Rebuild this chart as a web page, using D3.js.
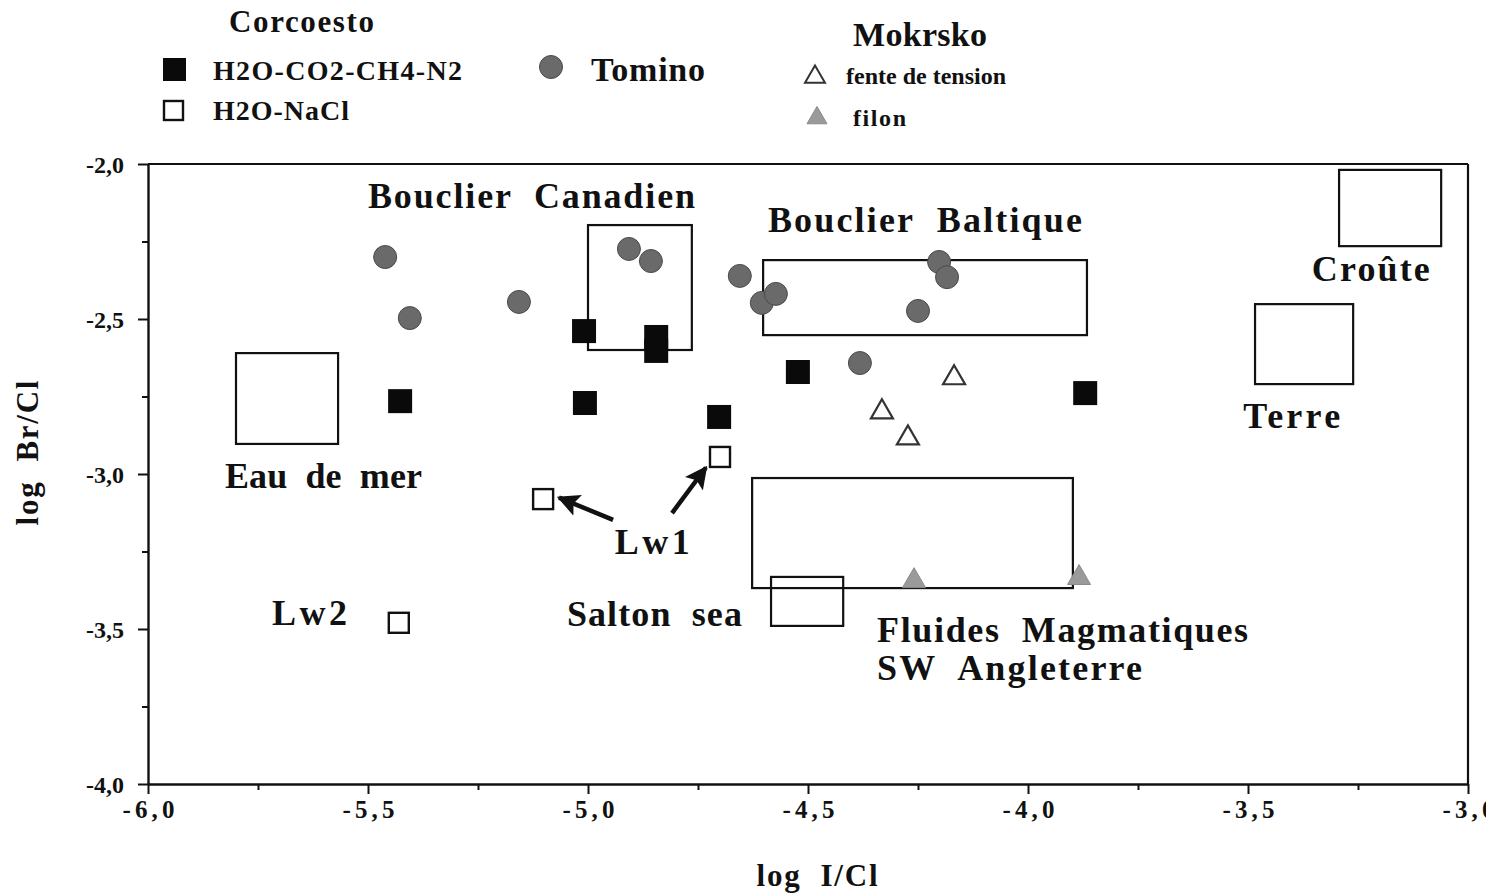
<!DOCTYPE html>
<html>
<head>
<meta charset="utf-8">
<script src="https://cdn.jsdelivr.net/npm/d3@7"></script>
<style>
  html, body { margin: 0; padding: 0; background: #fff; }
  svg { display: block; }
  svg text { font-family: "Liberation Serif", Tinos, "Times New Roman", Times, serif; }
</style>
</head>
<body>
<svg id="chart" width="1486" height="895"></svg>
<script>
// log I/Cl (x) and log Br/Cl (y) for each fluid-inclusion group
const corcoestoCarbonic = [   // H2O-CO2-CH4-N2
  [-5.427, -2.765], [-5.009, -2.539], [-4.845, -2.558], [-4.845, -2.603],
  [-5.007, -2.771], [-4.702, -2.816], [-4.523, -2.671], [-3.870, -2.739]
];
const corcoestoAqueous = [    // H2O-NaCl
  [-5.102, -3.081], [-4.700, -2.945], [-5.430, -3.480]
];
const tomino = [
  [-5.461, -2.300], [-5.405, -2.497], [-5.157, -2.445], [-4.907, -2.274],
  [-4.857, -2.313], [-4.655, -2.361], [-4.605, -2.448], [-4.573, -2.419],
  [-4.202, -2.316], [-4.184, -2.365], [-4.250, -2.474], [-4.382, -2.642]
];
const mokrskoFente = [
  [-4.168, -2.690], [-4.332, -2.800], [-4.273, -2.884]
];
const mokrskoFilon = [
  [-4.259, -3.345], [-3.884, -3.335]
];

// reference fields: [x0, x1, y0, y1]
const fieldBoxes = [
  [-5.800, -5.568, -2.610, -2.903],   // Eau de mer
  [-5.000, -4.764, -2.197, -2.600],   // Bouclier Canadien
  [-4.602, -3.866, -2.310, -2.552],   // Bouclier Baltique
  [-4.627, -3.898, -3.013, -3.368],   // Fluides magmatiques SW Angleterre
  [-4.584, -4.420, -3.332, -3.490],   // Salton sea
  [-3.293, -3.061, -2.019, -2.265],   // Croûte
  [-3.484, -3.261, -2.452, -2.710]    // Terre
];

// field and sample labels: text, x (left), y (baseline), width in px
const fieldLabels = [
  ["Bouclier  Canadien", -5.500, -2.142, 327],
  ["Bouclier  Baltique", -4.591, -2.219, 314],
  ["Croûte", -3.355, -2.377, 118],
  ["Terre", -3.511, -2.852, 97],
  ["Eau  de  mer", -5.825, -3.045, 197],
  ["Lw1", -4.939, -3.258, 75],
  ["Lw2", -5.718, -3.487, 75],
  ["Salton  sea", -5.048, -3.490, 175],
  ["Fluides  Magmatiques", -4.343, -3.542, 371],
  ["SW  Angleterre", -4.343, -3.665, 265]
];

// Lw1 pointers: [x tail, y tail, x tip, y tip]
const pointers = [
  [-4.943, -3.148, -5.066, -3.076],
  [-4.809, -3.126, -4.732, -2.979]
];

const xMajor = [-6.0, -5.5, -5.0, -4.5, -4.0, -3.5, -3.0];
const yMajor = [-2.0, -2.5, -3.0, -3.5, -4.0];
const xMinor = [-5.75, -5.25, -4.75, -4.25, -3.75, -3.25];
const yMinor = [-2.25, -2.75, -3.25, -3.75];

const svg = d3.select("#chart");
const x = d3.scaleLinear().domain([-6, -3]).range([148, 1468]);
const y = d3.scaleLinear().domain([-2, -4]).range([164, 784]);
// decimal comma and a plain hyphen for the sign
const comma = v => d3.format(".1f")(v).replace(".", ",").replace("\u2212", "-");

const ink = "#111";

// frame
const frame = svg.append("g").attr("stroke", ink).attr("stroke-width", 2.2).attr("fill", "none");
frame.append("line").attr("x1", x(-6)).attr("x2", x(-3)).attr("y1", y(-2)).attr("y2", y(-2));
frame.append("line").attr("x1", x(-3)).attr("x2", x(-3)).attr("y1", y(-2)).attr("y2", y(-4));

// axes
const xAxis = svg.append("g").attr("transform", `translate(0,${y(-4)})`)
  .call(d3.axisBottom(x).tickValues(xMajor).tickSize(10).tickSizeOuter(0).tickFormat(comma));
svg.append("g").attr("transform", `translate(0,${y(-4)})`)
  .call(d3.axisBottom(x).tickValues(xMinor).tickSize(6).tickSizeOuter(0).tickFormat(""))
  .select(".domain").remove();
const yAxis = svg.append("g").attr("transform", `translate(${x(-6)},0)`)
  .call(d3.axisLeft(y).tickValues(yMajor).tickSize(10).tickSizeOuter(0).tickFormat(comma));
svg.append("g").attr("transform", `translate(${x(-6)},0)`)
  .call(d3.axisLeft(y).tickValues(yMinor).tickSize(6).tickSizeOuter(0).tickFormat(""))
  .select(".domain").remove();

svg.selectAll(".domain").attr("stroke", ink).attr("stroke-width", 2.4);
svg.selectAll(".tick line").attr("stroke", ink).attr("stroke-width", 2);

xAxis.selectAll(".tick text")
  .attr("y", 34).attr("dy", 0)
  .attr("font-weight", "bold").attr("font-size", 25)
  .attr("fill", ink).attr("textLength", 52).attr("lengthAdjust", "spacing");
yAxis.selectAll(".tick text")
  .attr("x", -24).attr("dy", "0.34em")
  .attr("font-weight", "bold").attr("font-size", 24)
  .attr("fill", ink);

// axis titles
svg.append("text")
  .attr("x", 817).attr("y", 886).attr("text-anchor", "middle")
  .attr("font-weight", "bold").attr("font-size", 31).attr("fill", ink)
  .attr("textLength", 121).attr("lengthAdjust", "spacing")
  .attr("xml:space", "preserve")
  .text("log  I/Cl");
svg.append("text")
  .attr("transform", "translate(38,453) rotate(-90)").attr("text-anchor", "middle")
  .attr("font-weight", "bold").attr("font-size", 31).attr("fill", ink)
  .attr("textLength", 145).attr("lengthAdjust", "spacing")
  .attr("xml:space", "preserve")
  .text("log  Br/Cl");

// reference field boxes
svg.append("g").selectAll("rect").data(fieldBoxes).join("rect")
  .attr("x", d => x(d[0])).attr("y", d => y(d[2]))
  .attr("width", d => x(d[1]) - x(d[0])).attr("height", d => y(d[3]) - y(d[2]))
  .attr("fill", "none").attr("stroke", ink).attr("stroke-width", 2.2);

// field labels
svg.append("g").selectAll("text").data(fieldLabels).join("text")
  .attr("x", d => x(d[1])).attr("y", d => y(d[2]))
  .attr("font-weight", "bold").attr("font-size", 36).attr("fill", ink)
  .attr("textLength", d => d[3]).attr("lengthAdjust", "spacing")
  .attr("xml:space", "preserve")
  .text(d => d[0]);

// arrows
svg.append("defs").append("marker")
  .attr("id", "head").attr("viewBox", "0 0 10 10").attr("refX", 9).attr("refY", 5)
  .attr("markerWidth", 5).attr("markerHeight", 5).attr("markerUnits", "strokeWidth")
  .attr("orient", "auto")
  .append("path").attr("d", "M0,0 L10,5 L0,10 L2,5 Z").attr("fill", ink);
svg.append("g").selectAll("line").data(pointers).join("line")
  .attr("x1", d => x(d[0])).attr("y1", d => y(d[1]))
  .attr("x2", d => x(d[2])).attr("y2", d => y(d[3]))
  .attr("stroke", ink).attr("stroke-width", 4.5).attr("marker-end", "url(#head)");

// symbols
function triPath(side) {
  // equilateral triangle with given side, centroid at origin
  const h = side * Math.sqrt(3) / 2;
  return `M0,${-2 * h / 3} L${side / 2},${h / 3} L${-side / 2},${h / 3} Z`;
}

const marks = svg.append("g");
marks.selectAll(".tomino").data(tomino).join("circle")
  .attr("cx", d => x(d[0])).attr("cy", d => y(d[1])).attr("r", 11.5)
  .attr("fill", "#6a6a6a").attr("stroke", "#4a4a4a").attr("stroke-width", 1);
marks.selectAll(".carb").data(corcoestoCarbonic).join("rect")
  .attr("x", d => x(d[0]) - 12).attr("y", d => y(d[1]) - 12)
  .attr("width", 24).attr("height", 24).attr("fill", "#0a0a0a");
marks.selectAll(".aq").data(corcoestoAqueous).join("rect")
  .attr("x", d => x(d[0]) - 10).attr("y", d => y(d[1]) - 10)
  .attr("width", 20).attr("height", 20)
  .attr("fill", "#fff").attr("stroke", ink).attr("stroke-width", 2.4);
marks.selectAll(".fente").data(mokrskoFente).join("path")
  .attr("transform", d => `translate(${x(d[0])},${y(d[1])})`)
  .attr("d", triPath(22))
  .attr("fill", "#fff").attr("stroke", "#333").attr("stroke-width", 2.2);
marks.selectAll(".filon").data(mokrskoFilon).join("path")
  .attr("transform", d => `translate(${x(d[0])},${y(d[1])})`)
  .attr("d", triPath(23))
  .attr("fill", "#9a9a9a").attr("stroke", "#8a8a8a").attr("stroke-width", 1);

// legend
const legend = svg.append("g").attr("fill", ink).attr("font-weight", "bold");
function legendText(t, x0, yb, size, w) {
  legend.append("text").attr("x", x0).attr("y", yb).attr("font-size", size)
    .attr("textLength", w).attr("lengthAdjust", "spacing").text(t);
}
legendText("Corcoesto", 229, 32, 31, 145);
legendText("H2O-CO2-CH4-N2", 213, 80, 28, 249);
legendText("H2O-NaCl", 213, 120, 28, 136);
legendText("Tomino", 591, 81, 34, 114);
legendText("Mokrsko", 853, 46, 34, 134);
legendText("fente de tension", 846, 84, 24, 160);
legendText("filon", 853, 126, 24, 53);

legend.append("rect").attr("x", 163).attr("y", 58).attr("width", 23).attr("height", 23).attr("fill", "#0a0a0a");
legend.append("rect").attr("x", 164).attr("y", 101).attr("width", 19).attr("height", 19)
  .attr("fill", "#fff").attr("stroke", ink).attr("stroke-width", 2.4);
legend.append("circle").attr("cx", 551).attr("cy", 67).attr("r", 11.5)
  .attr("fill", "#6a6a6a").attr("stroke", "#4a4a4a").attr("stroke-width", 1);
legend.append("path").attr("transform", "translate(815,77)").attr("d", triPath(20))
  .attr("fill", "#fff").attr("stroke", "#333").attr("stroke-width", 2);
legend.append("path").attr("transform", "translate(817,118)").attr("d", triPath(20))
  .attr("fill", "#9a9a9a").attr("stroke", "#8a8a8a").attr("stroke-width", 1);
</script>
</body>
</html>
